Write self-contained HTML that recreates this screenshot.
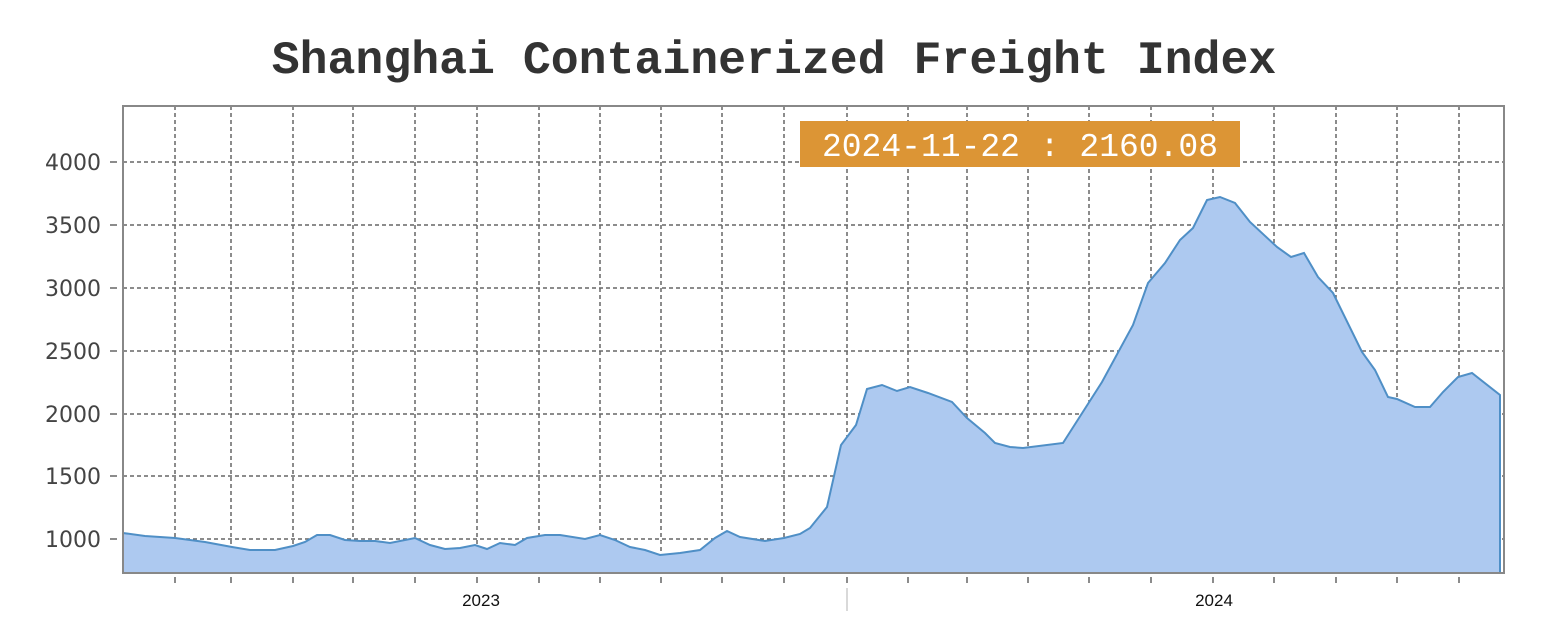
<!DOCTYPE html>
<html><head><meta charset="utf-8"><style>
html,body{margin:0;padding:0;background:#fff;}
svg{display:block;}
</style></head><body>
<svg width="1552" height="634" viewBox="0 0 1552 634" xmlns="http://www.w3.org/2000/svg">
<text x="774" y="73" text-anchor="middle" font-family="Liberation Mono, monospace" font-weight="bold" font-size="46.5" fill="#333">Shanghai Containerized Freight Index</text>
<g stroke="#666" stroke-width="1.5" stroke-dasharray="4,3" fill="none">
<line x1="123" y1="162" x2="1504" y2="162"/>
<line x1="123" y1="225" x2="1504" y2="225"/>
<line x1="123" y1="288" x2="1504" y2="288"/>
<line x1="123" y1="351" x2="1504" y2="351"/>
<line x1="123" y1="414" x2="1504" y2="414"/>
<line x1="123" y1="476" x2="1504" y2="476"/>
<line x1="123" y1="539" x2="1504" y2="539"/>
<line x1="175" y1="106" x2="175" y2="572"/><line x1="231" y1="106" x2="231" y2="572"/><line x1="293" y1="106" x2="293" y2="572"/><line x1="353" y1="106" x2="353" y2="572"/><line x1="415" y1="106" x2="415" y2="572"/><line x1="477" y1="106" x2="477" y2="572"/><line x1="539" y1="106" x2="539" y2="572"/><line x1="600" y1="106" x2="600" y2="572"/><line x1="661" y1="106" x2="661" y2="572"/><line x1="722" y1="106" x2="722" y2="572"/><line x1="784" y1="106" x2="784" y2="572"/><line x1="847" y1="106" x2="847" y2="572"/><line x1="908" y1="106" x2="908" y2="572"/><line x1="967" y1="106" x2="967" y2="572"/><line x1="1028" y1="106" x2="1028" y2="572"/><line x1="1089" y1="106" x2="1089" y2="572"/><line x1="1151" y1="106" x2="1151" y2="572"/><line x1="1213" y1="106" x2="1213" y2="572"/><line x1="1274" y1="106" x2="1274" y2="572"/><line x1="1336" y1="106" x2="1336" y2="572"/><line x1="1397" y1="106" x2="1397" y2="572"/><line x1="1459" y1="106" x2="1459" y2="572"/>
</g>
<g stroke="#666" stroke-width="1.5">
<line x1="110" y1="162" x2="117" y2="162"/><line x1="110" y1="225" x2="117" y2="225"/><line x1="110" y1="288" x2="117" y2="288"/><line x1="110" y1="351" x2="117" y2="351"/><line x1="110" y1="414" x2="117" y2="414"/><line x1="110" y1="476" x2="117" y2="476"/><line x1="110" y1="539" x2="117" y2="539"/>
<line x1="175" y1="577" x2="175" y2="583"/><line x1="231" y1="577" x2="231" y2="583"/><line x1="293" y1="577" x2="293" y2="583"/><line x1="353" y1="577" x2="353" y2="583"/><line x1="415" y1="577" x2="415" y2="583"/><line x1="477" y1="577" x2="477" y2="583"/><line x1="539" y1="577" x2="539" y2="583"/><line x1="600" y1="577" x2="600" y2="583"/><line x1="661" y1="577" x2="661" y2="583"/><line x1="722" y1="577" x2="722" y2="583"/><line x1="784" y1="577" x2="784" y2="583"/><line x1="847" y1="577" x2="847" y2="583"/><line x1="908" y1="577" x2="908" y2="583"/><line x1="967" y1="577" x2="967" y2="583"/><line x1="1028" y1="577" x2="1028" y2="583"/><line x1="1089" y1="577" x2="1089" y2="583"/><line x1="1151" y1="577" x2="1151" y2="583"/><line x1="1213" y1="577" x2="1213" y2="583"/><line x1="1274" y1="577" x2="1274" y2="583"/><line x1="1336" y1="577" x2="1336" y2="583"/><line x1="1397" y1="577" x2="1397" y2="583"/><line x1="1459" y1="577" x2="1459" y2="583"/>
</g>
<line x1="847" y1="588" x2="847" y2="611" stroke="#ccc" stroke-width="1.5"/>
<g font-family="DejaVu Sans, sans-serif" font-size="22" fill="#444" text-anchor="end">
<text x="101" y="170">4000</text><text x="101" y="233">3500</text><text x="101" y="296">3000</text><text x="101" y="359">2500</text><text x="101" y="422">2000</text><text x="101" y="484">1500</text><text x="101" y="547">1000</text>
</g>
<g font-family="Liberation Sans, sans-serif" font-size="17" fill="#111" text-anchor="middle">
<text x="481" y="606">2023</text><text x="1214" y="606">2024</text>
</g>
<path d="M123,573 L123,533 145,536 175,538 205,542 232,547 250,550 275,550 293,546 305,542 317,535 330,535 345,540 360,541 375,541 390,543 415,538 430,545 445,549 460,548 475,545 487,549 500,543 515,545 527,538 545,535 560,535 585,539 600,535 615,540 630,547 645,550 660,555 680,553 700,550 715,538 727,531 740,537 765,541 784,538 800,534 810,528 827,507 841,445 856,425 867,389 882,385 897,391 910,387 928,393 952,402 967,418 985,433 995,443 1010,447 1023,448 1063,443 1102,382 1133,325 1148,283 1165,263 1180,240 1193,228 1207,200 1220,197 1235,203 1250,222 1277,247 1291,257 1304,253 1318,277 1333,293 1362,352 1375,370 1388,397 1397,399 1415,407 1430,407 1443,392 1458,377 1472,373 1500,395 L1500,573 Z" fill="#adc9f0" stroke="none"/>
<path d="M123,573 L123,533 145,536 175,538 205,542 232,547 250,550 275,550 293,546 305,542 317,535 330,535 345,540 360,541 375,541 390,543 415,538 430,545 445,549 460,548 475,545 487,549 500,543 515,545 527,538 545,535 560,535 585,539 600,535 615,540 630,547 645,550 660,555 680,553 700,550 715,538 727,531 740,537 765,541 784,538 800,534 810,528 827,507 841,445 856,425 867,389 882,385 897,391 910,387 928,393 952,402 967,418 985,433 995,443 1010,447 1023,448 1063,443 1102,382 1133,325 1148,283 1165,263 1180,240 1193,228 1207,200 1220,197 1235,203 1250,222 1277,247 1291,257 1304,253 1318,277 1333,293 1362,352 1375,370 1388,397 1397,399 1415,407 1430,407 1443,392 1458,377 1472,373 1500,395 L1500,573" fill="none" stroke="#4f8fc6" stroke-width="2"/>
<rect x="123" y="106" width="1381" height="467" fill="none" stroke="#888" stroke-width="2"/>
<rect x="800" y="121" width="440" height="46" fill="#dc9535"/>
<text x="1020" y="156" text-anchor="middle" font-family="Liberation Mono, monospace" font-size="33" fill="#fff">2024-11-22 : 2160.08</text>
</svg>
</body></html>
